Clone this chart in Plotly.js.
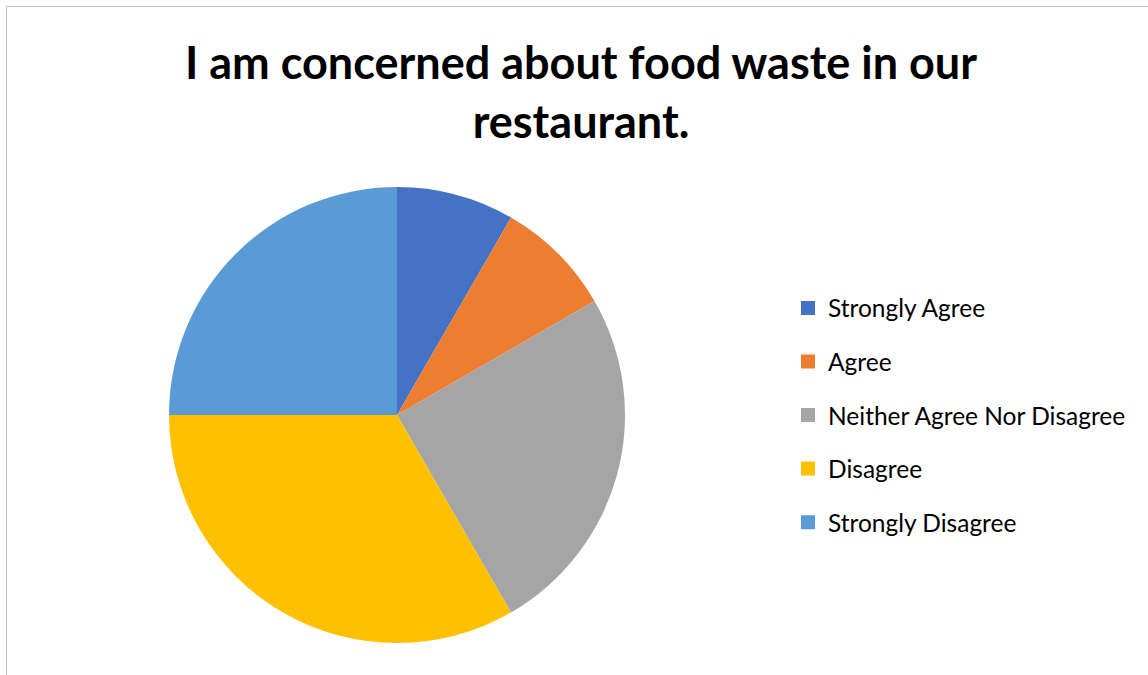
<!DOCTYPE html>
<html>
<head>
<meta charset="utf-8">
<script src="https://cdn.plot.ly/plotly-3.0.1.min.js"></script>
<style>
html,body{margin:0;padding:0;background:#fff;}
#chart{position:absolute;left:0;top:0;width:1148px;height:675px;}
#frame{position:absolute;left:6px;top:6px;width:1160px;height:700px;border-left:1px solid #bfbfbf;border-top:1px solid #bfbfbf;pointer-events:none;}
</style>
</head>
<body>
<div id="chart"></div>
<div id="frame"></div>
<script>
const categories = ["Strongly Agree", "Agree", "Neither Agree Nor Disagree", "Disagree", "Strongly Disagree"];
const values = [1, 1, 3, 4, 3];
const colors = ["#4472C4", "#ED7D31", "#A5A5A5", "#FFC000", "#5B9BD5"];
const titleText = "I am concerned about food waste in our<br>restaurant.";

const font = "Lato, 'Open Sans', sans-serif";

const pie = {
  type: "pie",
  labels: categories,
  values: values,
  sort: false,
  direction: "clockwise",
  rotation: 0,
  marker: {colors: colors, line: {width: 0}},
  textinfo: "none",
  hoverinfo: "label+value+percent",
  showlegend: false,
  domain: {x: [(397-228)/1148, (397+228)/1148], y: [32/675, 488/675]}
};

const legendTraces = categories.map((c, i) => ({
  type: "scatter",
  mode: "markers",
  x: [null], y: [null],
  name: c,
  legendgroup: "g" + i,
  marker: {symbol: "square", size: 14, color: colors[i]},
  hoverinfo: "skip",
  showlegend: true
}));

const layout = {
  width: 1148, height: 675,
  margin: {l: 0, r: 0, t: 0, b: 0},
  paper_bgcolor: "#ffffff",
  plot_bgcolor: "#ffffff",
  title: {
    text: titleText,
    font: {family: font, size: 45, color: "#000000", weight: "bold"},
    x: 581/1148, xanchor: "center",
    y: 1 - 79/675, yanchor: "top"
  },
  xaxis: {visible: false, domain: [0.9, 0.91]},
  yaxis: {visible: false, domain: [0.9, 0.91]},
  showlegend: true,
  legend: {
    x: 788/1148, xanchor: "left",
    y: 1 - 285.5/675, yanchor: "top",
    font: {family: font, size: 24.5, color: "#000000"},
    tracegroupgap: 18.7,
    itemwidth: 30,
    bgcolor: "rgba(0,0,0,0)"
  }
};

Plotly.newPlot("chart", [pie].concat(legendTraces), layout, {displayModeBar: false, staticPlot: true});
</script>
</body>
</html>
